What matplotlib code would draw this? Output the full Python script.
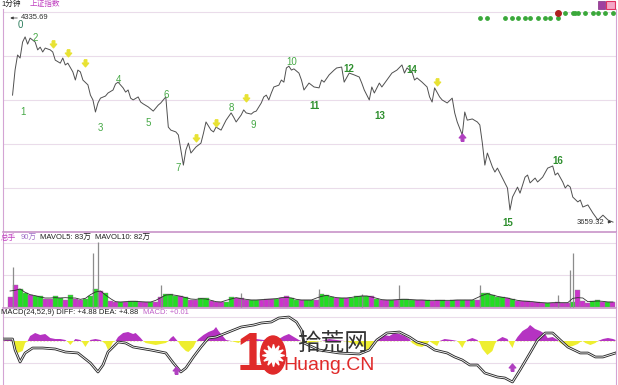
import numpy as np
import pandas as pd
import matplotlib
matplotlib.use("Agg")
import matplotlib.pyplot as plt
from matplotlib.patches import Ellipse, Rectangle, Circle

plt.rcParams['font.family'] = ['Liberation Sans', 'Noto Sans CJK SC', 'DejaVu Sans']

W, H = 618, 385

# --- price (1 minute line, minute index -> index level) ---
price_min = [1, 2, 3, 4, 5, 6, 7, 8, 10, 11, 12, 13, 14, 16, 17, 18, 20, 21, 22, 23,
             25, 26, 27, 28, 29, 31, 32, 33, 34, 35, 36, 38, 39, 41, 42, 43, 45, 46, 47, 48,
             49, 51, 52, 53, 55, 57, 58, 59, 60, 61, 62, 63, 64, 66, 67, 68, 69, 70, 71, 72,
             74, 76, 77, 78, 80, 81, 82, 84, 86, 88, 89, 90, 92, 93, 94, 96, 97, 98, 100, 101,
             102, 103, 104, 105, 107, 108, 109, 110, 111, 112, 113, 115, 116, 117, 119, 121, 123, 124, 125, 127,
             129, 130, 132, 133, 135, 137, 139, 140, 141, 143, 144, 145, 147, 148, 150, 152, 154, 156, 157, 158,
             160, 161, 162, 164, 166, 167, 168, 169, 171, 172, 174, 176, 177, 178, 180, 181, 182, 184, 186, 187,
             188, 189, 190, 192, 193, 194, 196, 198, 199, 200, 202, 203, 205, 206, 207, 209, 210, 212, 214, 216,
             217, 218, 220, 221, 222, 223, 224, 226, 227, 228, 230, 232, 234, 236, 238, 240]
price = [4080, 4163, 4213, 4203, 4256, 4273, 4249, 4269, 4256, 4230, 4239, 4223, 4236, 4230, 4223, 4196, 4186, 4203, 4180, 4186,
         4157, 4130, 4163, 4157, 4130, 4114, 4080, 4064, 4024, 4054, 4070, 4077, 4087, 4097, 4117, 4123, 4104, 4090, 4097, 4070,
         4064, 4074, 4057, 4051, 4041, 4027, 4037, 4047, 4054, 4064, 4074, 3974, 3964, 3958, 3948, 3898, 3848, 3898, 3921, 3888,
         3908, 3921, 3954, 3991, 3964, 3958, 3974, 3964, 3997, 4021, 4007, 3991, 4014, 4031, 4021, 4017, 4024, 4027, 4054, 4074,
         4080, 4064, 4087, 4107, 4113, 4130, 4123, 4170, 4176, 4163, 4167, 4153, 4130, 4097, 4120, 4107, 4104, 4130, 4123, 4147,
         4163, 4170, 4173, 4123, 4153, 4147, 4140, 4120, 4097, 4064, 4107, 4087, 4120, 4107, 4130, 4153, 4163, 4180, 4153, 4170,
         4157, 4130, 4137, 4123, 4107, 4074, 4057, 4104, 4074, 4064, 4054, 4070, 4021, 3991, 3948, 4024, 3997, 4001, 3991, 3981,
         3921, 3848, 3888, 3842, 3825, 3838, 3805, 3772, 3699, 3742, 3775, 3755, 3808, 3815, 3789, 3805, 3792, 3808, 3838, 3845,
         3815, 3822, 3792, 3772, 3782, 3775, 3742, 3726, 3732, 3709, 3716, 3689, 3666, 3682, 3666, 3659]
price_high = 4335.69
price_low = 3659.32

# wave count labels
wave_text = ['0', '1', '2', '3', '4', '5', '6', '7', '8', '9', '10', '11', '12', '13', '14', '15', '16']
wave_min = [4, 5, 10, 36, 43, 55, 62, 67, 88, 97, 112, 121, 135, 147, 160, 198, 218]
wave_price = [4312, 4024, 4269, 3971, 4130, 3988, 4080, 3838, 4037, 3981, 4190, 4044, 4167, 4011, 4163, 3656, 3862]

# signal markers
sell_min = [17, 23, 30, 74, 82, 94, 170]
sell_price = [4250, 4220, 4186, 3938, 3988, 4070, 4123]
buy_min = [180]
buy_price = [3941]
dots_low_min = [187, 190, 197, 200, 202, 205, 207, 210, 213, 215, 218]
dots_high_min = [221, 224, 225, 226, 229, 232, 234, 237, 240]
dots_low_level = 4336
dots_high_level = 4352

# --- volume (万), 2 minute bars ---
vol = [100, 220, 180, 140, 120, 110, 110, 80, 80, 110,
       90, 70, 120, 80, 70, 80, 110, 180, 160, 140,
       60, 50, 50, 50, 60, 60, 50, 50, 50, 50,
       100, 130, 130, 110, 110, 100, 70, 70, 90, 90,
       60, 50, 50, 50, 100, 90, 90, 70, 70, 70,
       70, 80, 80, 80, 90, 110, 90, 70, 70, 70,
       70, 70, 130, 120, 100, 90, 90, 90, 90, 110,
       110, 110, 110, 80, 70, 70, 70, 70, 80, 80,
       70, 70, 70, 70, 60, 70, 70, 60, 70, 70,
       70, 70, 70, 70, 140, 140, 120, 100, 100, 90,
       80, 60, 60, 60, 50, 50, 40, 40, 40, 50,
       40, 40, 50, 170, 60, 40, 60, 70, 50, 50,
       50]
vol_side = ("mmggmggmmg" "gmgmmgggmg" "mmgmggmmgm" "mgggmgmmgg" "mmmggmmmgg" "mmmgmmggmg"
            "gmgggmgmgg" "ggmgmmgmgg" "gmmgmmgmgm" "gmgmgggggm" "gmmmmmmgmm" "mmgmmmggmg" "m")
spike_min = [1, 33, 35, 60, 92, 123, 140, 155, 187, 218, 223, 224]
spike_vol = [400, 540, 650, 220, 140, 180, 130, 220, 220, 120, 370, 540]

# --- MACD ---
diff_min = [-3, 1, 2, 4, 6, 9, 13, 18, 22, 27, 32, 35, 37, 39, 43, 46, 49, 56, 62, 65,
            68, 70, 73, 76, 79, 82, 86, 89, 92, 97, 100, 104, 107, 111, 114, 116, 117, 123, 131, 139,
            143, 146, 150, 155, 159, 162, 166, 169, 174, 177, 180, 183, 186, 189, 194, 197, 200, 203, 207, 210,
            213, 216, 219, 222, 227, 230, 233, 236, 241]
diff_val = [2, 2, -9, -21, -12, -7, -7, -8, -11, -12, -22, -31, -24, -11, -1, -2, -6, -9, -12, -22,
            -31, -27, -16, -6, 3, 4, 8, 11, 14, 16, 18, 19, 23, 24, 19, 11, -2, -9, -12, -13,
            -9, 1, 8, 9, 4, -1, -4, -9, -12, -16, -19, -24, -24, -32, -36, -37, -41, -29, -12, 1,
            8, 8, 1, -6, -12, -12, -16, -16, -12]
hist_min = [-3, -1, 1, 2, 3, 5, 6, 7, 8, 10, 12, 14, 16, 18, 20, 22, 23, 24, 25, 26,
            28, 29, 30, 31, 32, 34, 36, 38, 39, 40, 41, 42, 43, 45, 47, 49, 50, 52, 53, 54,
            56, 58, 60, 62, 63, 64, 65, 66, 67, 68, 70, 71, 73, 74, 75, 77, 79, 81, 82, 83,
            85, 86, 88, 91, 92, 93, 95, 98, 101, 104, 107, 109, 111, 113, 115, 117, 119, 121, 124, 127,
            130, 133, 136, 139, 141, 142, 144, 145, 147, 149, 151, 153, 155, 157, 159, 160, 162, 164, 166, 167,
            168, 170, 171, 173, 176, 178, 179, 180, 181, 182, 184, 186, 187, 188, 190, 192, 193, 194, 196, 198,
            199, 200, 201, 202, 204, 206, 207, 209, 211, 213, 214, 216, 218, 219, 221, 222, 224, 226, 227, 228,
            229, 231, 233, 234, 236, 238, 240, 241]
hist_val = [0, 2, 1, -5, -12, -10, -2, 0, 5, 8, 6, 7, 3, 2, 2, 1, -1, -4, -1, 2,
            1, -2, -6, -2, 1, 2, 1, -3, -9, -6, -1, 0, 4, 8, 9, 7, 8, 3, 0, -2,
            -3, -4, -3, -2, 0, 3, 5, 2, -1, -5, -10, -11, -6, -1, 2, 6, 9, 11, 14, 10,
            4, 1, 0, -2, 0, 2, 1, 2, 1, 3, 2, 5, 7, 4, 1, -1, -2, -1, 0, 2,
            1, 0, -2, -4, -6, -10, -4, 0, 4, 6, 5, 8, 7, 5, 2, -2, -5, -6, -3, 0,
            -2, -5, 0, 2, 1, 0, -3, -7, -2, 1, 3, 1, -2, -8, -14, -10, -3, 1, 4, 2,
            -3, -7, 0, 4, 10, 13, 16, 12, 10, 7, 3, 4, 1, -2, -5, -6, -5, -3, -1, 0,
            -2, -4, -2, 0, 2, 3, 2, 1]
macd_buy_min = [66, 200]
macd_buy_val = [-29, -26]

GREEN = '#22dd22'
MAGENTA = '#cc33cc'
BORDER = '#d4a4d4'
SEP = '#c48ac4'
GRID = '#eadcea'
XLIM = (-2.8, 241.2)


def box(x0, y0, x1, y1):
    return [x0 / W, 1 - y1 / H, (x1 - x0) / W, (y1 - y0) / H]


def style(ax):
    ax.set_xlim(*XLIM)
    ax.set_xticks([])
    ax.set_yticks([])
    for s in ax.spines.values():
        s.set_color(BORDER)
        s.set_linewidth(0.8)
    ax.spines['top'].set_visible(False)
    ax.spines['bottom'].set_color(SEP)
    ax.spines['bottom'].set_linewidth(1.1)
    ax.set_facecolor('none')


down_arrow = [(-0.35, 1), (0.35, 1), (0.35, 0.1), (0.85, 0.1), (0, -0.9), (-0.85, 0.1), (-0.35, 0.1), (-0.35, 1)]
up_arrow = [(x, -y) for x, y in down_arrow]

fig = plt.figure(figsize=(W / 100, H / 100), dpi=100)
fig.patch.set_facecolor('white')

# price panel
ax_p = fig.add_axes(box(3, 9, 616, 232))
style(ax_p)
ax_p.set_ylim(3626.2, 4365.5)
for g in [3772.0, 3917.9, 4063.8, 4209.7, 4355.6]:
    ax_p.axhline(g, color=GRID, lw=0.8, zorder=0)
ax_p.plot(price_min, price, color='#505050', lw=0.7, zorder=2)
ax_p.scatter(sell_min, sell_price, marker=down_arrow, s=28, color='#e8e233', zorder=4)
ax_p.scatter(buy_min, buy_price, marker=up_arrow, s=30, color='#b040c0', zorder=4)
ax_p.scatter(dots_low_min, [dots_low_level] * len(dots_low_min), s=6, color='#3aa83a', zorder=4)
ax_p.scatter(dots_high_min, [dots_high_level] * len(dots_high_min), s=6, color='#3aa83a', zorder=4)
ax_p.scatter([dots_low_min[-1]], [dots_high_level], s=16, color='#b02020', zorder=5)
for t, m, p in zip(wave_text, wave_min, wave_price):
    bold = int(t) >= 11
    col = '#2d7d5d' if t == '0' else ('#2e8f2e' if bold else '#45a845')
    ax_p.text(m, p, t, ha='center', va='center', fontsize=7, color=col,
              fontweight='bold' if bold else 'normal', zorder=5)
ax_p.annotate('', xy=(-1.0, price_high), xytext=(4.0, price_high),
              arrowprops=dict(arrowstyle='-|>', lw=0.5, color='#333333', mutation_scale=4))
ax_p.text(4.3, price_high, f'{price_high:.2f}', fontsize=5.5, va='center', ha='left', color='#303030')
ax_p.annotate('', xy=(240.5, price_low), xytext=(236.8, price_low),
              arrowprops=dict(arrowstyle='-|>', lw=0.5, color='#333333', mutation_scale=4))
ax_p.text(236.6, price_low, f'{price_low:.2f}', fontsize=5.5, va='center', ha='right', color='#303030')

# volume panel
ax_v = fig.add_axes(box(3, 232, 616, 308))
style(ax_v)
ax_v.set_ylim(-10, 750)
for g in [320, 640]:
    ax_v.axhline(g, color=GRID, lw=0.8, zorder=0)
vol_min = np.arange(0, 241, 2)
ax_v.bar(vol_min, vol, width=2, color=[GREEN if c == 'g' else MAGENTA for c in vol_side],
         edgecolor='#8c8c8c', linewidth=0.3, zorder=2)
ax_v.vlines(spike_min, 0, spike_vol, color='#8c8c8c', lw=0.9, zorder=3)
mavol = pd.Series(vol).rolling(3, center=True, min_periods=1).mean()
ax_v.plot(vol_min, mavol, color='#303030', lw=0.6, zorder=4)

# MACD panel
ax_m = fig.add_axes(box(3, 308, 616, 386))
style(ax_m)
ax_m.spines['bottom'].set_visible(False)
ax_m.set_ylim(-45, 33)
for g in [24, -22]:
    ax_m.axhline(g, color=GRID, lw=0.8, zorder=0)
ax_m.axhline(0, color='#e2dcb0', lw=0.6, ls=(0, (2, 2)), zorder=1)
hv = np.array(hist_val)
ax_m.fill_between(hist_min, hv, 0, where=hv >= 0, interpolate=True, color='#b533c2', lw=0, zorder=2)
ax_m.fill_between(hist_min, hv, 0, where=hv <= 0, interpolate=True, color='#eeee30', lw=0, zorder=2)
ax_m.plot(diff_min, diff_val, color='#2a2a2a', lw=1.9, zorder=3)
ax_m.plot(diff_min, diff_val, color='white', lw=0.6, zorder=4)
ax_m.scatter(macd_buy_min, macd_buy_val, marker=up_arrow, s=30, color='#b040c0', zorder=5)

# overlay: headers, icons and watermark (pixel coordinates)
ov = fig.add_axes([0, 0, 1, 1])
ov.set_xlim(0, W)
ov.set_ylim(H, 0)
ov.axis('off')
ov.patch.set_alpha(0)

fs = 5.5
ov.text(1, 4.5, '1分钟', fontsize=fs, va='center', color='#202020')
ov.text(30, 4.5, '上证指数', fontsize=fs, va='center', color='#c040c0')
ov.text(1, 238.5, '总手', fontsize=fs, va='center', color='#c040c0')
ov.text(21, 238.5, '90万', fontsize=fs, va='center', color='#a070c8')
ov.text(40, 238.5, 'MAVOL5: 83万', fontsize=fs, va='center', color='#202020')
ov.text(95, 238.5, 'MAVOL10: 82万', fontsize=fs, va='center', color='#202020')
ov.text(1, 313, 'MACD(24,52,9) DIFF: +4.88 DEA: +4.88', fontsize=fs, va='center', color='#202020')
ov.text(143, 313, 'MACD: +0.01', fontsize=fs, va='center', color='#c060c8')

ov.add_patch(Rectangle((598, 0.5), 7, 8, facecolor='#a040a0', edgecolor='#803080', lw=0.5))
ov.add_patch(Rectangle((606, 0.5), 9, 8, facecolor='#f4a6c6', edgecolor='#e03060', lw=0.8))

red = '#e02a2a'
ov.text(251, 356, '1', fontsize=38, fontweight='bold', color=red, ha='center', va='center')
ov.add_patch(Ellipse((273, 355), 25, 38, color=red))
ov.plot(273, 355, marker=(12, 1, 0), ms=16, color='white', mec='white')
ov.add_patch(Circle((273, 355), 5.5, color='white'))
ov.add_patch(Circle((273, 355), 2.8, color=red))
ov.text(297, 344, '拾荒网', fontsize=17, color='#333333', va='center', ha='left', family=['Noto Sans CJK SC'])
ov.text(283, 366, 'Huang.CN', fontsize=14, color=red, va='center', ha='left')

fig.savefig('out.png', dpi=100, facecolor='white')
